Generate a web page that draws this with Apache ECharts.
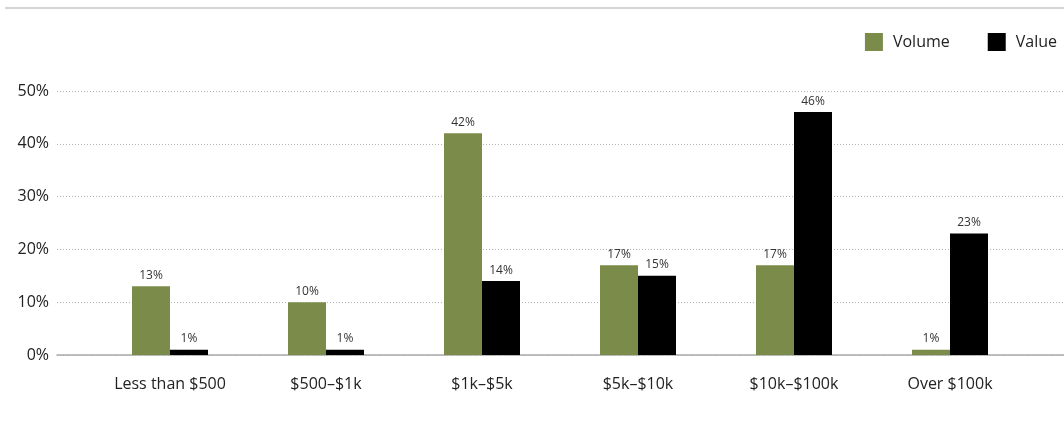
<!DOCTYPE html>
<html><head><meta charset="utf-8">
<script src="https://cdn.jsdelivr.net/npm/echarts@6/dist/echarts.min.js"></script>
<style>html,body{margin:0;padding:0;background:#fff}#c{width:1064px;height:422px}</style>
</head><body><div id="c"></div>
<script>
const categories = ['Less than $500', '$500–$1k', '$1k–$5k', '$5k–$10k', '$10k–$100k', 'Over $100k'];
const volume = [13, 10, 42, 17, 17, 1];
const value = [1, 1, 14, 15, 46, 23];
const yTicks = [0, 10, 20, 30, 40, 50];
const FONT = '"Open Sans", "Noto Sans", sans-serif';
const chart = echarts.init(document.getElementById('c'));
chart.setOption({
  animation: false,
  textStyle: { fontFamily: FONT },
  graphic: [{ type: 'rect', shape: { x: 5, y: 7, width: 1059, height: 2 }, style: { fill: '#d4d4d4' } }],
  legend: {
    right: 2, top: 28, itemWidth: 18, itemHeight: 18, itemGap: 38,
    icon: 'rect',
    textStyle: { fontSize: 16, color: '#222', fontFamily: FONT, padding: [0, 0, 0, 5] },
    data: ['Volume', 'Value']
  },
  grid: [
    { left: 57, right: 0, top: 91, bottom: 67 },
    { left: 92, width: 936, top: 91, bottom: 67 }
  ],
  xAxis: [
    { gridIndex: 0, type: 'value', min: 0, max: 1, axisLabel: { show: false }, axisTick: { show: false }, splitLine: { show: false },
      axisLine: { show: true, lineStyle: { color: '#aaa', width: 1.5 } } },
    { gridIndex: 1, type: 'category', data: categories, axisLine: { show: false }, axisTick: { show: false },
      axisLabel: { margin: 21, fontSize: 16, color: '#222', fontFamily: FONT } }
  ],
  yAxis: [
    { gridIndex: 0, type: 'value', min: yTicks[0], max: yTicks[yTicks.length - 1], interval: 10,
      axisLabel: { formatter: '{value}%', fontSize: 16, color: '#222', margin: 8, fontFamily: FONT },
      axisLine: { show: false }, axisTick: { show: false },
      splitLine: { show: true, lineStyle: { type: [1, 2], color: '#b5b5b5', width: 1 } } },
    { gridIndex: 1, type: 'value', min: 0, max: 50, show: false, splitLine: { show: false } }
  ],
  series: [
    { name: 'Volume', type: 'bar', xAxisIndex: 1, yAxisIndex: 1, data: volume, barWidth: 38, barGap: '0%',
      itemStyle: { color: '#7b8b49' },
      label: { show: true, position: 'top', distance: 5, formatter: '{c}%', fontSize: 12, color: '#333', fontFamily: FONT } },
    { name: 'Value', type: 'bar', xAxisIndex: 1, yAxisIndex: 1, data: value, barWidth: 38, barGap: '0%',
      itemStyle: { color: '#000' },
      label: { show: true, position: 'top', distance: 5, formatter: '{c}%', fontSize: 12, color: '#333', fontFamily: FONT } }
  ]
});
</script></body></html>
